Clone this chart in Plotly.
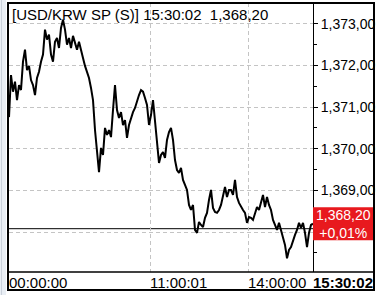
import plotly.graph_objects as go

# ---- data ----
prices = [
    1370.76, 1371.77, 1371.37, 1371.61, 1371.17, 1371.53, 1371.41, 1372.09, 1372.38, 1371.89,
    1371.99, 1371.65, 1371.53, 1371.29, 1371.70, 1371.85, 1372.09, 1372.26, 1372.86, 1372.62,
    1372.74, 1372.26, 1372.09, 1372.57, 1372.66, 1372.42, 1372.90, 1373.10, 1372.86, 1372.50,
    1372.66, 1372.42, 1372.71, 1372.52, 1372.38, 1372.57, 1372.33, 1372.18, 1371.99, 1371.85,
    1371.70, 1371.46, 1371.17, 1370.45, 1369.97, 1369.44, 1370.02, 1369.85, 1370.50, 1370.33,
    1370.45, 1370.28, 1370.93, 1371.53, 1370.93, 1370.74, 1370.88, 1370.57, 1370.69, 1370.26,
    1370.57, 1370.74, 1370.88, 1370.98, 1371.17, 1371.29, 1371.41, 1371.37, 1371.22, 1371.05,
    1370.57, 1370.81, 1371.17, 1370.62, 1370.04, 1369.66, 1369.85, 1369.92, 1369.78, 1370.21,
    1370.40, 1370.50, 1370.21, 1369.73, 1369.49, 1369.42, 1369.54, 1369.25, 1369.13, 1369.01,
    1368.65, 1368.53, 1368.65, 1368.05, 1367.98, 1368.24, 1368.17, 1368.12, 1368.34, 1368.46,
    1368.77, 1369.01, 1368.58, 1368.48, 1368.46, 1368.53, 1368.65, 1368.89, 1369.08, 1368.84,
    1369.01, 1369.01, 1368.89, 1369.25, 1368.84, 1368.70, 1368.60, 1368.53, 1368.46, 1368.22,
    1368.36, 1368.34, 1368.29, 1368.48, 1368.60, 1368.53, 1368.72, 1368.89, 1368.60, 1368.84,
    1368.65, 1368.53, 1368.29, 1368.17, 1368.05, 1368.22, 1368.05, 1367.86, 1367.69, 1367.37,
    1367.57, 1367.64, 1367.81, 1367.93, 1368.05, 1368.22, 1368.10, 1368.22, 1367.98, 1367.64,
    1367.98, 1368.17, 1368.20,
]
time_index = list(range(len(prices)))

time_tick_positions = [0, 70.5, 119.5, 152]
time_tick_labels = ["00:00:00", "11:00:01", "14:00:00", "<b>15:30:02</b>"]

price_ticks = [1368, 1369, 1370, 1371, 1372, 1373]
# the 1,368 label is hidden behind the last-price box in the reference
price_tick_labels = ["", "1,369,00", "1,370,00", "1,371,00", "1,372,00", "1,373,00"]

prev_close = 1368.08
last_price_label = "1,368,20"
change_label = "+0,01%"
header_text = "[USD/KRW SP (S)] 15:30:02\u00a0\u00a01,368,20"

y_range = [1367.04, 1373.50]

FONT = "Liberation Sans, Arial, sans-serif"
FS = 15
GRID = "#c4c4c4"
RED = "#e8191e"

fig = go.Figure()
fig.add_trace(go.Scatter(
    x=time_index, y=prices, mode="lines",
    line=dict(color="black", width=2),
    hoverinfo="skip", showlegend=False,
))

shapes = [
    # white band under header (hides gridlines above top level)
    dict(type="rect", xref="paper", yref="y", x0=0, x1=1,
         y0=price_ticks[-1] + 0.03, y1=y_range[1],
         fillcolor="white", line=dict(width=0), layer="between"),
    # previous close line
    dict(type="line", xref="paper", yref="y", x0=0, x1=1,
         y0=prev_close, y1=prev_close,
         line=dict(color="black", width=1), layer="between"),
    # left pale strip
    dict(type="rect", xref="paper", yref="paper", x0=-9 / 304, x1=-3 / 304,
         y0=-23 / 269, y1=275 / 269, fillcolor="#e9eef4",
         line=dict(width=0), layer="above"),
    dict(type="line", xref="paper", yref="paper", x0=-7.5 / 304, x1=-7.5 / 304,
         y0=-23 / 269, y1=275 / 269, line=dict(color="#c9d0da", width=1), layer="above"),
    # last price box
    dict(type="rect", xref="paper", yref="y", x0=1, x1=365 / 304,
         ysizemode="pixel", yanchor=prices[-1], y0=-16.5, y1=16.5,
         fillcolor=RED, line=dict(width=0), layer="above"),
    # bottom separator line across full width
    dict(type="line", xref="paper", yref="paper", x0=0, x1=365 / 304,
         y0=0, y1=0, line=dict(color="black", width=1.5), layer="above"),
    # outer frame
    dict(type="rect", xref="paper", yref="paper", x0=-1 / 304, x1=365 / 304,
         y0=-18 / 269, y1=1, line=dict(color="black", width=2), layer="above"),
]

annotations = [
    dict(xref="paper", yref="paper", x=0, y=1, xanchor="left", yanchor="middle",
         xshift=1, yshift=-11, text=header_text, showarrow=False,
         font=dict(family=FONT, size=FS, color="black")),
    dict(xref="paper", yref="y", x=334.5 / 304, y=prices[-1],
         xanchor="center", yanchor="middle", align="center",
         text=last_price_label + "<br>" + change_label, showarrow=False,
         font=dict(family=FONT, size=FS - 1, color="white")),
]

fig.update_layout(
    width=377, height=295,
    margin=dict(l=9, r=64, t=3, b=23, pad=0, autoexpand=False),
    paper_bgcolor="white", plot_bgcolor="white",
    showlegend=False, hovermode=False,
    font=dict(family=FONT, size=FS, color="black"),
    shapes=shapes, annotations=annotations,
    xaxis=dict(
        range=[0, len(prices) - 1], tickmode="array",
        tickvals=time_tick_positions, ticktext=time_tick_labels,
        ticklabelposition="outside right", ticks="", tickangle=0,
        automargin=False,
        showgrid=True, gridcolor=GRID, griddash="4px,3px", gridwidth=1,
        showline=False, zeroline=False, fixedrange=True,
        tickfont=dict(family=FONT, size=FS, color="black"),
    ),
    yaxis=dict(
        side="right", range=y_range, tickmode="array",
        tickvals=price_ticks, ticktext=price_tick_labels,
        ticks="outside", ticklen=4, tickcolor="black", tickwidth=1,
        automargin=False,
        minor=dict(ticks="outside", ticklen=3, tickcolor="black", dtick=0.5, tick0=0, showgrid=False),
        showgrid=True, gridcolor=GRID, griddash="4px,3px", gridwidth=1,
        showline=True, linecolor="black", linewidth=1, mirror=False,
        zeroline=False, fixedrange=True,
        tickfont=dict(family=FONT, size=14, color="black"),
    ),
)

fig.write_html("out.html", config={"displayModeBar": False, "staticPlot": True})
